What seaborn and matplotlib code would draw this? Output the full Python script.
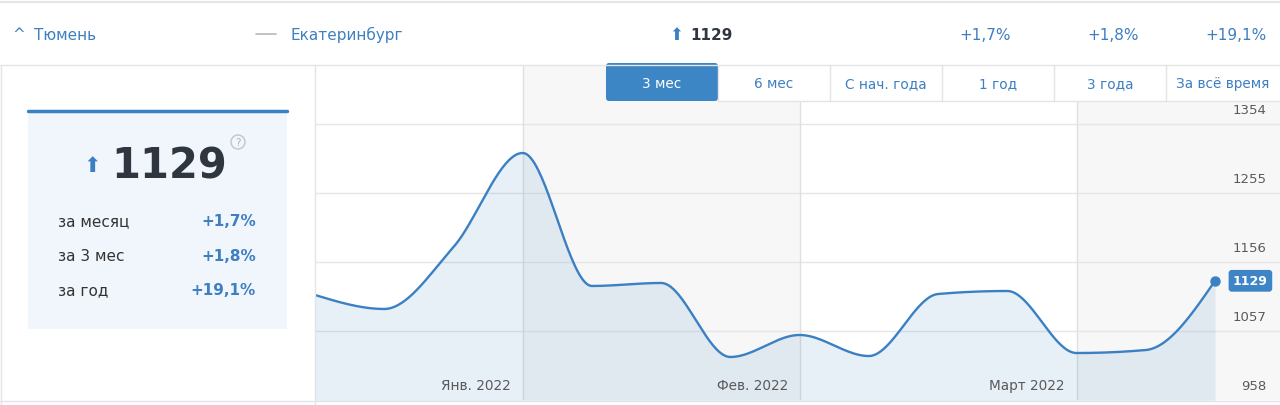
import numpy as np
import pandas as pd
import matplotlib
matplotlib.use("Agg")
import matplotlib.pyplot as plt
import seaborn as sns
from matplotlib.patches import Rectangle, FancyBboxPatch, Circle
from matplotlib.lines import Line2D

# ---------------- data ----------------
weeks = list(range(14))
values = [1108.7, 1088.6, 1177.5, 1312.4, 1121.6, 1125.9, 1019.7,
          1051.3, 1021.1, 1110.1, 1114.4, 1025.4, 1029.7, 1129.0]
y_ticks = [958, 1057, 1156, 1255, 1354]
month_labels = ["Янв. 2022", "Фев. 2022", "Март 2022"]
month_bounds = [3, 7, 11]
tabs = ["3 мес", "6 мес", "С нач. года", "1 год", "3 года", "За всё время"]
city = "Тюмень"
compare_city = "Екатеринбург"
current = 1129
change_labels = ["за месяц", "за 3 мес", "за год"]
change_values = ["+1,7%", "+1,8%", "+19,1%"]

# ---------------- style ----------------
sns.set_theme(style="white")
plt.rcParams["font.family"] = ["DejaVu Sans"]

BLUE = "#3b80c3"
LINK = "#3d7fc1"
DARK = "#2f3640"
GRID = "#e6e6e6"
GREYTXT = "#5a5a5a"


def monotone_x(x, y, n=40):
    """d3.curveMonotoneX style smoothing (cubic Hermite with monotone tangents)."""
    x = np.asarray(x, float)
    y = np.asarray(y, float)
    h = np.diff(x)
    s = np.diff(y) / h
    t = np.zeros_like(y)
    for i in range(1, len(y) - 1):
        p = (s[i - 1] * h[i] + s[i] * h[i - 1]) / (h[i - 1] + h[i])
        t[i] = (np.sign(s[i - 1]) + np.sign(s[i])) * min(abs(s[i - 1]), abs(s[i]), 0.5 * abs(p))
    t[0] = (3 * s[0] - t[1]) / 2
    t[-1] = (3 * s[-1] - t[-2]) / 2
    xs, ys = [], []
    for i in range(len(y) - 1):
        u = np.linspace(0, 1, n, endpoint=(i == len(y) - 2))
        h00 = 2 * u**3 - 3 * u**2 + 1
        h10 = u**3 - 2 * u**2 + u
        h01 = -2 * u**3 + 3 * u**2
        h11 = u**3 - u**2
        xs.append(x[i] + u * h[i])
        ys.append(h00 * y[i] + h10 * h[i] * t[i] + h01 * y[i + 1] + h11 * h[i] * t[i + 1])
    return np.concatenate(xs), np.concatenate(ys)


W, H = 1280, 406
fig = plt.figure(figsize=(W / 100, H / 100), dpi=100)
fig.patch.set_facecolor("white")

# ---------------- chart axes ----------------
ax_l, ax_r, ax_t, ax_b = 315, 1280, 66, 401
ax = fig.add_axes([ax_l / W, (H - ax_b) / H, (ax_r - ax_l) / W, (ax_b - ax_t) / H])
px_per_week = (1215 - 315) / 13
px_per_val = 69 / 99
ax.set_xlim(0, (ax_r - ax_l) / px_per_week)
ax.set_ylim(958, 958 + (ax_b - ax_t) / px_per_val)
xmax = ax.get_xlim()[1]

ax.set_facecolor("white")
ax.axvspan(month_bounds[0], month_bounds[1], color="#f7f7f7", zorder=0, lw=0)
ax.axvspan(month_bounds[2], xmax, color="#f7f7f7", zorder=0, lw=0)

for yt in y_ticks[1:]:
    ax.axhline(yt, color=GRID, lw=1, zorder=1)
for mb in month_bounds:
    ax.axvline(mb, color="#e0e0e0", lw=1, zorder=1)

xs, ys = monotone_x(weeks, values)
smooth = pd.DataFrame({"x": xs, "y": ys})
ax.fill_between(xs, ys, 958 - 5, color=BLUE, alpha=0.12, lw=0, zorder=2)
sns.lineplot(data=smooth, x="x", y="y", ax=ax, color=BLUE, lw=1.7, zorder=3, sort=False)
ax.plot(weeks[-1], values[-1], "o", color=BLUE, ms=6.5, zorder=4)
ax.annotate(f"{current}", xy=(weeks[-1], values[-1]), xytext=(25.5, 0.0),
            textcoords="offset points", ha="center", va="center",
            fontsize=9, fontweight="bold", color="white", zorder=5,
            bbox=dict(boxstyle="round,pad=0.35,rounding_size=0.25", fc="#3d85c6", ec="none"))

for yt in y_ticks:
    ax.annotate(str(yt), xy=(1, yt), xycoords=("axes fraction", "data"),
                xytext=(-10, 10.5), textcoords="offset points",
                ha="right", va="center", fontsize=9.5, color=GREYTXT, zorder=5)
for lab, mb in zip(month_labels, month_bounds):
    ax.annotate(lab, xy=(mb, 958), xytext=(-8.5, 10.5), textcoords="offset points",
                ha="right", va="center", fontsize=9.8, color=GREYTXT, zorder=5)

ax.set_xticks([])
ax.set_yticks([])
ax.set_xlabel("")
ax.set_ylabel("")
for sp in ax.spines.values():
    sp.set_visible(False)

# ---------------- overlay (page chrome) ----------------
ov = fig.add_axes([0, 0, 1, 1], zorder=10)
ov.set_xlim(0, W)
ov.set_ylim(H, 0)
ov.axis("off")
ov.patch.set_alpha(0)

LC = "#e4e4e4"
ov.add_line(Line2D([0, W], [3, 3], color=LC, lw=1.5))
ov.add_line(Line2D([0, W], [66, 66], color=LC, lw=1))
ov.add_line(Line2D([1, 1], [66, H], color=LC, lw=1))
ov.add_line(Line2D([315, 315], [66, H], color=LC, lw=1))
ov.add_line(Line2D([0, W], [402, 402], color=LC, lw=1))

# header row
ov.text(12, 35, "^", fontsize=11, color=LINK, ha="left", va="center")
ov.text(34, 35, city, fontsize=11, color=LINK, ha="left", va="center")
ov.add_line(Line2D([256, 276], [35, 35], color="#b8b8b8", lw=1.2))
ov.text(290, 35, compare_city, fontsize=11, color=LINK, ha="left", va="center")
ov.text(676, 35, "⬆", fontsize=12, color=BLUE, ha="center", va="center")
ov.text(690, 35, f"{current}", fontsize=11, fontweight="bold", color=DARK, ha="left", va="center")
for txt, xr in zip(change_values, [1011, 1139, 1267]):
    ov.text(xr, 35, txt, fontsize=11, color=LINK, ha="right", va="center")

# left card
ov.add_patch(Rectangle((28, 112), 259, 218, fc="#f1f6fc", ec="none"))
ov.add_line(Line2D([28, 287], [112, 112], color=BLUE, lw=2.5))
ov.text(92, 166, "⬆", fontsize=15, color=BLUE, ha="center", va="center")
ov.text(169, 167, f"{current}", fontsize=30, fontweight="bold", color=DARK, ha="center", va="center")
ov.add_patch(Circle((238, 143), 7, fc="none", ec="#c4c4c4", lw=1))
ov.text(238, 143.5, "?", fontsize=7.5, color="#b0b0b0", ha="center", va="center")
for lab, val, yy in zip(change_labels, change_values, [222, 257, 291]):
    ov.text(58, yy, lab, fontsize=11, color="#333333", ha="left", va="center")
    ov.text(256, yy, val, fontsize=11, fontweight="bold", color=LINK, ha="right", va="center")

# tabs
tab_x = [606, 718, 830, 942, 1054, 1166, 1280]
for i, name in enumerate(tabs):
    x0, x1 = tab_x[i], tab_x[i + 1]
    if i == 0:
        ov.add_patch(FancyBboxPatch((x0 + 2, 66), x1 - x0 - 4, 34,
                                    boxstyle="round,pad=2,rounding_size=3",
                                    fc="#3d86c6", ec="none"))
        ov.text((x0 + x1) / 2, 84, name, fontsize=9.8, color="white", ha="center", va="center")
    else:
        ov.add_patch(Rectangle((x0, 66), x1 - x0, 36, fc="white", ec="none"))
        ov.add_line(Line2D([x0, x0], [66, 102], color=LC, lw=1))
        ov.add_line(Line2D([x0, x1], [102, 102], color=LC, lw=1))
        ov.text((x0 + x1) / 2, 84, name, fontsize=9.8, color=LINK, ha="center", va="center")

fig.savefig("out.png", dpi=100, facecolor="white")
